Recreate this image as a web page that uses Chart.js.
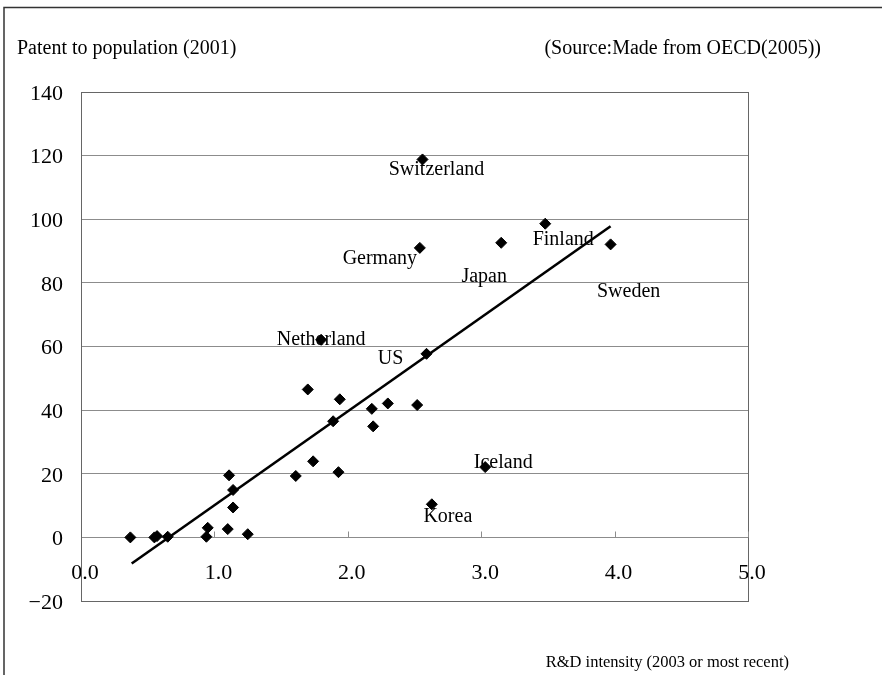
<!DOCTYPE html>
<html>
<head>
<meta charset="utf-8">
<title>Patents and R&amp;D intensity</title>
<script src="https://cdn.jsdelivr.net/npm/chart.js@4.4.1/dist/chart.umd.min.js"></script>
<style>
  html, body { margin: 0; padding: 0; background: #fff; }
  canvas { display: block; }
</style>
</head>
<body>
<canvas id="chart" width="882" height="675"></canvas>
<script>
// R&D intensity (% of GDP, 2003 or most recent) for each country
const rdIntensity = [0.37, 0.55, 0.57, 0.65, 0.94, 0.95, 1.10, 1.11, 1.14, 1.14,
                     1.25, 1.61, 1.74, 1.70, 1.94, 1.89, 1.93, 2.18, 2.30, 2.52,
                     2.19, 3.03, 2.63, 2.56, 3.48, 3.15, 2.54, 3.97, 1.80, 2.59];
// Patents relative to population (2001)
const patentsPerPop = [0.0, 0.0, 0.4, 0.2, 0.2, 3.0, 2.6, 19.5, 14.9, 9.4,
                       1.0, 19.3, 23.9, 46.5, 43.4, 36.5, 20.5, 40.4, 42.1, 41.6,
                       34.9, 22.1, 10.4, 118.8, 98.6, 92.6, 91.0, 92.1, 62.1, 57.7];
// Country names (empty where the point is not labelled)
const countryNames = ['', '', '', '', '', '', '', '', '', '',
                      '', '', '', '', '', '', '', '', '', '',
                      '', 'Iceland', 'Korea', 'Switzerland', 'Finland', 'Japan', 'Germany', 'Sweden', 'Netherland', 'US'];
// Linear trend line end points
const trendX = [0.38, 3.97];
const trendY = [-8.2, 97.8];
// Axis tick values
const xTicks = [0, 1, 2, 3, 4, 5];
const yTicks = [-20, 0, 20, 40, 60, 80, 100, 120, 140];

// Text placement of each country name relative to its marker (pixels)
const labelOffsets = {
  Switzerland: [14, 10], Finland: [18, 16], Germany: [-40, 11], Japan: [-17, 34],
  Sweden: [18, 47], Netherland: [0, 0], US: [-36, 5], Iceland: [18, -4], Korea: [16, 12]
};

const FONT = "'Liberation Serif', 'Times New Roman', serif";
const GRID = '#8c8c8c';
const FRAME = '#666666';
const INK = '#000';

const points = rdIntensity.map((x, i) => ({ x, y: patentsPerPop[i] }));
const trend = trendX.map((x, i) => ({ x, y: trendY[i] }));

// Page frame, plot frame, inner ticks and free text
const decorations = {
  id: 'decorations',
  beforeDraw(chart) {
    const ctx = chart.ctx;
    ctx.save();
    ctx.fillStyle = '#fff';
    ctx.fillRect(0, 0, chart.width, chart.height);
    ctx.strokeStyle = '#333';
    ctx.lineWidth = 1.5;
    ctx.beginPath();
    ctx.moveTo(4, chart.height);
    ctx.lineTo(4, 7.5);
    ctx.lineTo(chart.width, 7.5);
    ctx.stroke();

    ctx.fillStyle = INK;
    ctx.textBaseline = 'alphabetic';
    ctx.font = '20px ' + FONT;
    ctx.textAlign = 'left';
    ctx.fillText('Patent to population (2001)', 17, 54);
    ctx.textAlign = 'right';
    ctx.fillText('(Source:Made from OECD(2005))', 821, 54);
    ctx.font = '16.5px ' + FONT;
    ctx.fillText('R&D intensity (2003 or most recent)', 789, 667);
    ctx.restore();
  },
  beforeDatasetsDraw(chart) {
    const { ctx, chartArea: a, scales: { x, y } } = chart;
    ctx.save();
    ctx.strokeStyle = FRAME;
    ctx.lineWidth = 1;
    ctx.strokeRect(Math.round(a.left) + 0.5, Math.round(a.top) + 0.5,
                   Math.round(a.right - a.left), Math.round(a.bottom - a.top));
    // short tick marks pointing up from the zero line
    const y0 = Math.round(y.getPixelForValue(0)) + 0.5;
    ctx.strokeStyle = GRID;
    ctx.beginPath();
    xTicks.slice(1).forEach(v => {
      const px = Math.round(x.getPixelForValue(v)) + 0.5;
      ctx.moveTo(px, y0);
      ctx.lineTo(px, y0 - 6);
    });
    ctx.stroke();
    ctx.restore();
  },
  afterDatasetsDraw(chart) {
    const { ctx, scales: { x, y } } = chart;
    ctx.save();
    ctx.fillStyle = INK;
    ctx.font = '20px ' + FONT;
    ctx.textAlign = 'center';
    ctx.textBaseline = 'middle';
    countryNames.forEach((name, i) => {
      if (!name) return;
      const off = labelOffsets[name] || [0, 0];
      ctx.fillText(name, x.getPixelForValue(rdIntensity[i]) + off[0],
                         y.getPixelForValue(patentsPerPop[i]) + off[1]);
    });
    ctx.restore();
  }
};

new Chart(document.getElementById('chart'), {
  type: 'scatter',
  data: {
    datasets: [
      {
        label: 'Countries',
        data: points,
        pointStyle: 'rectRot',
        pointRadius: 5.5,
        pointBackgroundColor: '#000',
        pointBorderColor: '#000',
        pointBorderWidth: 1,
        showLine: false,
        order: 1
      },
      {
        label: 'Trend',
        data: trend,
        showLine: true,
        borderColor: '#000',
        borderWidth: 2.6,
        pointRadius: 0,
        fill: false,
        order: 2
      }
    ]
  },
  options: {
    responsive: false,
    animation: false,
    events: [],
    layout: { padding: { left: 0, top: 92, right: 134, bottom: 74 } },
    plugins: { legend: { display: false }, tooltip: { enabled: false }, title: { display: false } },
    scales: {
      x: {
        type: 'linear',
        position: { y: 0 },
        min: 0, max: 5,
        afterBuildTicks(scale) { scale.ticks = xTicks.map(v => ({ value: v })); },
        ticks: {
          color: INK,
          font: { family: FONT, size: 22 },
          padding: 23,
          labelOffset: 4,
          maxRotation: 0,
          callback: v => Number(v).toFixed(1)
        },
        grid: { drawOnChartArea: false, drawTicks: false },
        border: { display: true, color: GRID, width: 1 }
      },
      y: {
        type: 'linear',
        position: 'left',
        min: -20, max: 140,
        afterBuildTicks(scale) { scale.ticks = yTicks.map(v => ({ value: v })); },
        afterFit(scale) { scale.width = 81; },
        ticks: {
          color: INK,
          font: { family: FONT, size: 22 },
          padding: 18,
          labelOffset: 2,
          callback: v => (v < 0 ? '\u2212' + Math.abs(v) : String(v))
        },
        grid: { color: GRID, lineWidth: 1, drawTicks: false },
        border: { display: true, color: FRAME, width: 1 }
      }
    }
  },
  plugins: [decorations]
});
</script>
</body>
</html>
